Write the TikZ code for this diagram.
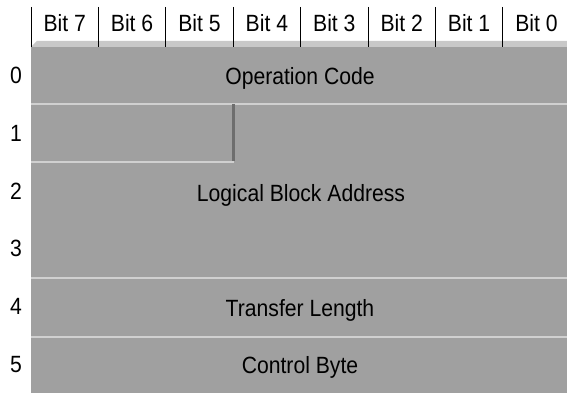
\documentclass[tikz,border=0pt]{standalone}
\usepackage{fontspec}
\setmainfont{Liberation Sans}[FakeStretch=0.9]
\definecolor{fieldgray}{RGB}{160,160,160}
\definecolor{hilite}{RGB}{208,208,208}
\definecolor{topface}{RGB}{200,200,200}
\definecolor{shade}{RGB}{110,110,110}
\begin{document}
\begin{tikzpicture}[x=1pt,y=-1pt,
  txt/.style={font=\fontsize{23.5}{27}\selectfont, inner sep=0pt, anchor=base},
  hdrline/.style={draw=black, line width=0.9pt},
  sepline/.style={draw=hilite, line width=2pt},
  shadowline/.style={draw=shade, line width=2.4pt}]
\useasboundingbox (0,0) rectangle (567,393);
% gray body
\fill[fieldgray] (31,47) rectangle (567,393);
% top bevel face
\fill[topface] (31,47) -- (37,41) -- (567,41) -- (567,47) -- cycle;
% separators
\draw[sepline] (31,104) -- (567,104);
\draw[sepline] (31,162) -- (234,162);
\draw[sepline] (31,278) -- (567,278);
\draw[sepline] (31,337) -- (567,337);
\draw[shadowline] (233.3,104) -- (233.3,161);
% header
\foreach \k/\b in {0/7,1/6,2/5,3/4,4/3,5/2,6/1,7/0}{
  \draw[hdrline] (31+67.4*\k,7) -- (31+67.4*\k,47);
  \node[txt] (bit\b) at (31+67.4*\k+33.7,32) {Bit \b};
}
% row labels
\foreach \r in {0,...,5}{
  \node[txt] (row\r) at (16,84+57.6*\r) {\r};
}
% field texts
\node[txt] (opcode) at (300,84.5) {Operation Code};
\node[txt] (lba) at (301,201.5) {Logical Block Address};
\node[txt] (xferlen) at (300,316) {Transfer Length};
\node[txt] (ctrl) at (300,373) {Control Byte};
\end{tikzpicture}
\end{document}
